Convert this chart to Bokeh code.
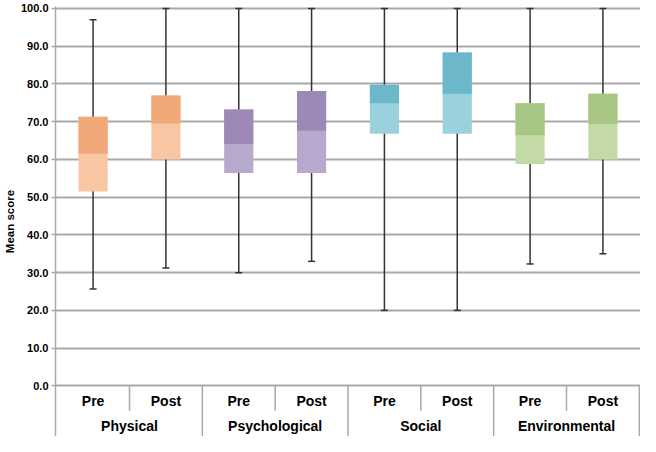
from bokeh.plotting import figure
from bokeh.models import FactorRange, ColumnDataSource, FixedTicker, NumeralTickFormatter
from bokeh.embed import file_html
from bokeh.resources import INLINE
from bokeh.core.properties import value

# ---- data ----
domains = ["Physical", "Psychological", "Social", "Environmental"]
phases = ["Pre", "Post"]
whisker_low = [25.7, 31.2, 30.0, 33.0, 20.0, 20.0, 32.3, 35.0]
q1 = [51.5, 60.0, 56.4, 56.4, 66.8, 66.8, 58.8, 60.0]
median = [61.5, 69.5, 64.1, 67.6, 74.9, 77.4, 66.4, 69.4]
q3 = [71.3, 76.9, 73.2, 78.1, 79.8, 88.3, 74.9, 77.4]
whisker_high = [97.0, 100.0, 100.0, 100.0, 100.0, 100.0, 100.0, 100.0]
y_ticks = [0, 10, 20, 30, 40, 50, 60, 70, 80, 90, 100]

# ---- styles ----
dark_colors = {"Physical": "#F0A878", "Psychological": "#9E88B6",
               "Social": "#6DB7CB", "Environmental": "#A7C684"}
light_colors = {"Physical": "#F8C6A3", "Psychological": "#B7A8CD",
                "Social": "#9BD0DD", "Environmental": "#C3DAA6"}
FONT = "Liberation Sans"
GRID = "#A9A9A9"

factors = [(d, ph) for d in domains for ph in phases]
src = ColumnDataSource(dict(
    x=factors,
    low=whisker_low, q1=q1, med=median, q3=q3, high=whisker_high,
    dark=[dark_colors[d] for d, _ in factors],
    light=[light_colors[d] for d, _ in factors],
    phase=[ph for _, ph in factors],
))

xr = FactorRange(*factors, group_padding=0, factor_padding=0, range_padding=0.004)
p = figure(x_range=xr, y_range=(-13.4, 100.5), width=640, height=436,
           output_backend="svg", toolbar_location=None, x_axis_location=None,
           min_border_top=6, min_border_bottom=0, min_border_right=0, min_border_left=0)
p.outline_line_color = None
p.xgrid.visible = False

# y axis
p.yaxis.ticker = FixedTicker(ticks=y_ticks)
p.yaxis.formatter = NumeralTickFormatter(format="0.0")
p.yaxis.axis_label = "Mean score"
p.yaxis.axis_label_text_font = FONT
p.yaxis.axis_label_text_font_style = "bold"
p.yaxis.axis_label_text_font_size = "11.5px"
p.yaxis.axis_label_text_color = "black"
p.yaxis.axis_label_standoff = 2
p.yaxis.major_label_text_font = FONT
p.yaxis.major_label_text_font_style = "bold"
p.yaxis.major_label_text_font_size = "11px"
p.yaxis.major_label_text_color = "black"
p.yaxis.major_label_standoff = 3
p.yaxis.major_tick_in = 0
p.yaxis.major_tick_out = 4
p.yaxis.major_tick_line_color = GRID
p.yaxis.major_tick_line_width = 1.5
p.yaxis.minor_tick_line_color = None
p.yaxis.axis_line_color = GRID
p.yaxis.axis_line_width = 1.5
p.ygrid.ticker = FixedTicker(ticks=y_ticks)
p.ygrid.grid_line_color = GRID
p.ygrid.grid_line_width = 2

# whiskers
p.segment(x0="x", y0="low", x1="x", y1="high", source=src, line_color="#333333", line_width=1.5)
p.scatter(x="x", y="low", source=src, marker="dash", size=7, line_color="#333333", line_width=1.5)
p.scatter(x="x", y="high", source=src, marker="dash", size=7, line_color="#333333", line_width=1.5)

# boxes: full light box first, dark upper half on top (no seam at the median)
p.vbar(x="x", bottom="q1", top="q3", width=0.4, source=src, fill_color="light", line_color=None)
p.vbar(x="x", bottom="med", top="q3", width=0.4, source=src, fill_color="dark", line_color=None)

# category axis drawn in the lower band
p.text(x="x", y=-3.9, text="phase", source=src, text_font=value(FONT), text_font_style="bold",
       text_font_size="14px", text_align="center", text_baseline="middle", text_color="black")
p.text(x=domains, y=[-10.5] * len(domains), text=domains, text_font=value(FONT),
       text_font_style="bold", text_font_size="14px", text_align="center",
       text_baseline="middle", text_color="black")
mid_sep = [(d, "Pre", 0.5) for d in domains]
end_sep = [(d, "Post", 0.5) for d in domains]
p.segment(x0=mid_sep, y0=[0] * 4, x1=mid_sep, y1=[-6.6] * 4, line_color=GRID, line_width=1.5)
p.segment(x0=end_sep, y0=[0] * 4, x1=end_sep, y1=[-13.4] * 4, line_color=GRID, line_width=1.5)

open("out.html", "w").write(file_html(p, INLINE))
